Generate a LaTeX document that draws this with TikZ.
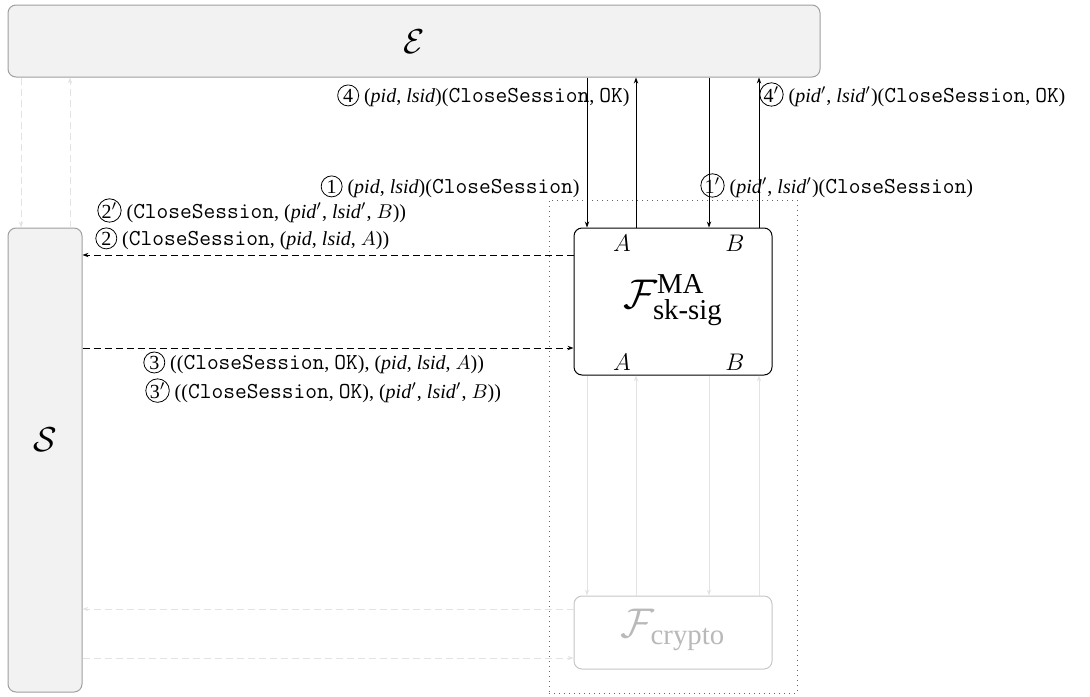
\documentclass[tikz,border=0pt]{standalone}
\usepackage{amsmath}
\usepackage{fontspec}
\setmainfont{Liberation Serif}
\setmonofont{Latin Modern Mono}[Scale=1.14]
\usetikzlibrary{arrows.meta}
\newcommand{\cn}[1]{\tikz[baseline=(cc.base)]\node[circle,draw,inner sep=0.3pt,minimum size=10.5pt,line width=0.4pt](cc){#1};}
\newcommand{\tts}[1]{\texttt{#1}}
\begin{document}
\begin{tikzpicture}[x=0.5pt,y=-0.5pt,
 box/.style={draw=gray!75,fill=gray!10,rounded corners=4pt,line width=0.5pt},
 fbox/.style={draw=black,fill=white,rounded corners=4pt,line width=0.5pt,minimum width=99pt,minimum height=73.5pt},
 arr/.style={-{Stealth[length=3pt,width=2.2pt]},line width=0.4pt},
 darr/.style={arr,dash pattern=on 3.5pt off 2pt},
 faint/.style={draw=gray!22},
 lbl/.style={inner sep=0pt}]
\useasboundingbox (0,0) rectangle (1090,696);
% boxes
\node[box,minimum width=406pt,minimum height=36pt] (E) at (414,41) {};
\node (Elbl) at (414,42) {\LARGE$\mathcal{E}$};
\node[box,minimum width=37pt,minimum height=232pt] (S) at (45,460) {};
\node (Slbl) at (45,440) {\LARGE$\mathcal{S}$};
\node[draw=gray!80!black,dotted,line width=0.5pt,minimum width=124pt,minimum height=246.5pt,inner sep=0pt] (G) at (673,446.5) {};
\node[fbox] (F) at (673,301.5) {};
\node (Flbl) at (673,300) {\huge$\mathcal{F}^{\text{MA}}_{\text{sk-sig}}$};
\node (FA1) at (622,243) {\large$A$};
\node (FB1) at (735,243) {\large$B$};
\node (FA2) at (622,362) {\large$A$};
\node (FB2) at (735,362) {\large$B$};
\node[draw=gray!45,fill=white,rounded corners=4pt,line width=0.5pt,minimum width=99pt,minimum height=36.5pt] (C) at (673,632.5) {};
\node[text=gray!55] (Clbl) at (673,630) {\huge$\mathcal{F}_{\text{crypto}}$};
% coordinates
\coordinate (v1) at (587,0);
\coordinate (v2) at (636,0);
\coordinate (v3) at (709,0);
\coordinate (v4) at (759,0);
\coordinate (l1) at (21,0);
\coordinate (l2) at (70,0);
\coordinate (h1) at (0,255);
\coordinate (h2) at (0,348);
\coordinate (h3) at (0,609);
\coordinate (h4) at (0,658);
% vertical arrows E <-> F
\draw[arr] (E.south -| v1) -- (F.north -| v1);
\draw[arr] (F.north -| v2) -- (E.south -| v2);
\draw[arr] (E.south -| v3) -- (F.north -| v3);
\draw[arr] (F.north -| v4) -- (E.south -| v4);
% faint F <-> C
\draw[arr,faint] (F.south -| v1) -- (C.north -| v1);
\draw[arr,faint] (C.north -| v2) -- (F.south -| v2);
\draw[arr,faint] (F.south -| v3) -- (C.north -| v3);
\draw[arr,faint] (C.north -| v4) -- (F.south -| v4);
% faint E <-> S
\draw[darr,faint] (E.south -| l1) -- (S.north -| l1);
\draw[darr,faint] (S.north -| l2) -- (E.south -| l2);
% S <-> F
\draw[darr] (F.west |- h1) -- (S.east |- h1);
\draw[darr] (S.east |- h2) -- (F.west |- h2);
% faint S <-> C
\draw[darr,faint] (C.west |- h3) -- (S.east |- h3);
\draw[darr,faint] (S.east |- h4) -- (C.west |- h4);
% labels
\node[lbl,anchor=base east] (L4) at (630,102) {\cn{4} (\textit{pid}, \textit{lsid})(\tts{CloseSession}, \tts{OK})};
\node[lbl,anchor=base west] (L4p) at (759,102) {\cn{4$'$} (\textit{pid}$'$, \textit{lsid}$'$)(\tts{CloseSession}, \tts{OK})};
\node[lbl,anchor=base east] (L1) at (580,193) {\cn{1} (\textit{pid}, \textit{lsid})(\tts{CloseSession})};
\node[lbl,anchor=base west] (L1p) at (700,193) {\cn{1$'$} (\textit{pid}$'$, \textit{lsid}$'$)(\tts{CloseSession})};
\node[lbl,anchor=base west] (L2p) at (97,218) {\cn{2$'$} (\tts{CloseSession}, (\textit{pid}$'$, \textit{lsid}$'$, $B$))};
\node[lbl,anchor=base west] (L2) at (95,245) {\cn{2} (\tts{CloseSession}, (\textit{pid}, \textit{lsid}, $A$))};
\node[lbl,anchor=base west] (L3) at (143,369) {\cn{3} ((\tts{CloseSession}, \tts{OK}), (\textit{pid}, \textit{lsid}, $A$))};
\node[lbl,anchor=base west] (L3p) at (145,398) {\cn{3$'$} ((\tts{CloseSession}, \tts{OK}), (\textit{pid}$'$, \textit{lsid}$'$, $B$))};
\end{tikzpicture}
\end{document}
